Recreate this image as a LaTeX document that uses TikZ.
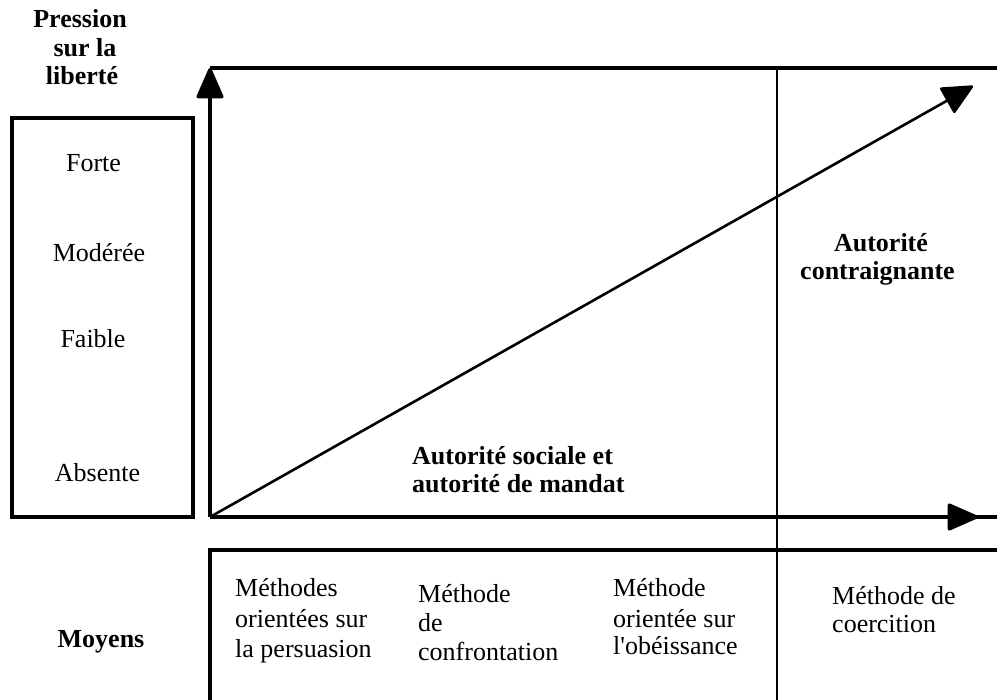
\documentclass[tikz,border=0pt]{standalone}
\usepackage{fontspec}
\setmainfont{Liberation Serif}
\usetikzlibrary{arrows.meta}
\begin{document}
\begin{tikzpicture}[x=1pt,y=-1pt,
  lbl/.style={inner sep=0pt, font=\fontsize{26}{30}\selectfont},
  lblb/.style={inner sep=0pt, font=\fontsize{26}{30}\selectfont\bfseries},
  heavy/.style={line width=3.4pt},
  thin/.style={line width=2.4pt},
  bigtip/.style={-{Triangle[length=33pt,width=28pt,round]}}]
\useasboundingbox (0,0) rectangle (997,700);

% key points of the chart
\coordinate (O) at (210,517);
\coordinate (Ytop) at (210,68);
\coordinate (TR) at (997,68);
\coordinate (Xend) at (997,517);
\coordinate (Xtip) at (978,517);
\coordinate (Dtip) at (973,86);
\coordinate (Vtop) at (777,68);
\coordinate (Vbot) at (777,700);
\coordinate (Bl) at (210,700);
\coordinate (Btl) at (210,550);
\coordinate (Btr) at (997,550);

% scale box on the left
\draw[heavy] (12,118) rectangle (193,517);

% frame of the chart
\draw[heavy] (Ytop) -- (TR);
\draw[heavy] (O) -- (Xend);
\draw[heavy,bigtip] (O) -- (Xtip);
\draw[heavy,bigtip] (O) -- (Ytop);

% dividing line between the two kinds of authority
\draw[thin] (Vtop) -- (Vbot);

% rising diagonal
\draw[line width=2.6pt,-{Triangle[length=32pt,width=30pt,round]}] (O) -- (Dtip);

% means row
\draw[heavy] (Btr) -- (Btl) -- (Bl);

% axis title
\node[lblb,anchor=base] (p1) at (80,28) {Pression};
\node[lblb,anchor=base] (p2) at (85,57) {sur la};
\node[lblb,anchor=base] (p3) at (82,85) {liberté};

% levels of pressure
\node[lbl,anchor=base] (forte) at (93.5,172) {Forte};
\node[lbl,anchor=base] (moderee) at (99,262) {Modérée};
\node[lbl,anchor=base] (faible) at (93,348) {Faible};
\node[lbl,anchor=base] (absente) at (97.5,482) {Absente};

% authority labels
\node[lblb,anchor=base west] (soc1) at (412,465) {Autorité sociale et};
\node[lblb,anchor=base west] (soc2) at (412,493) {autorité de mandat};
\node[lblb,anchor=base] (con1) at (881,252) {Autorité};
\node[lblb,anchor=base] (con2) at (877.5,280) {contraignante};

% means
\node[lblb,anchor=base] (moyens) at (101,647) {Moyens};
\node[lbl,anchor=base west] (m1a) at (235,597) {Méthodes};
\node[lbl,anchor=base west] (m1b) at (235,627) {orientées sur};
\node[lbl,anchor=base west] (m1c) at (235,657) {la persuasion};
\node[lbl,anchor=base west] (m2a) at (418,602) {Méthode};
\node[lbl,anchor=base west] (m2b) at (418,631) {de};
\node[lbl,anchor=base west] (m2c) at (418,660) {confrontation};
\node[lbl,anchor=base west] (m3a) at (613,597) {Méthode};
\node[lbl,anchor=base west] (m3b) at (613,627) {orientée sur};
\node[lbl,anchor=base west] (m3c) at (613,655) {l\textquotesingle obéissance};
\node[lbl,anchor=base west] (m4a) at (832,605) {Méthode de};
\node[lbl,anchor=base west] (m4b) at (832,633) {coercition};
\end{tikzpicture}
\end{document}
